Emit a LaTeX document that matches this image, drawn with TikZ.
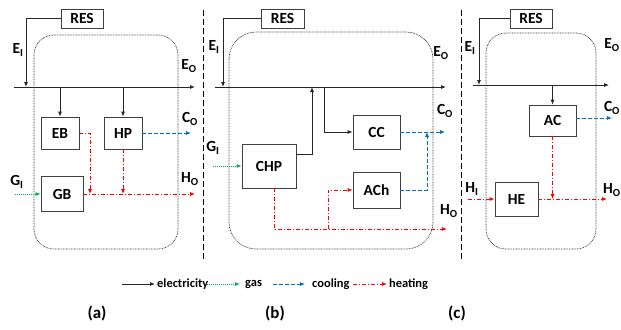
\documentclass[tikz,border=0pt]{standalone}
\usepackage{fontspec}
\setmainfont{Carlito}
\usetikzlibrary{arrows.meta}
\definecolor{gasgreen}{RGB}{0,176,80}
\definecolor{coolblue}{RGB}{0,112,192}
\definecolor{heatred}{RGB}{255,0,0}
\tikzset{
  box/.style={draw=black!75, line width=0.8bp, inner sep=0pt, font=\fontsize{15.5}{17}\selectfont\bfseries},
  lbl/.style={inner sep=0pt, font=\fontsize{15.5}{17}\selectfont\bfseries},
  captext/.style={inner sep=0pt, font=\fontsize{17}{19}\selectfont\bfseries},
  leg/.style={inner sep=0pt, anchor=west, font=\fontsize{12.5}{14}\selectfont\bfseries},
  tip/.style={-{Latex[length=5bp,width=4bp]}},
  elecline/.style={draw=black!85, line width=0.8bp, tip},
  gasline/.style={draw=gasgreen, line width=0.8bp, dash pattern=on 1bp off 1bp, tip},
  coolline/.style={draw=coolblue, line width=0.8bp, dash pattern=on 4bp off 2bp, tip},
  heatline/.style={draw=heatred, line width=0.8bp, dash pattern=on 4bp off 2bp on 1bp off 2bp, tip},
  system/.style={draw=black!80, line width=0.7bp, dash pattern=on 0.8bp off 0.8bp},
  sep/.style={draw=black, line width=0.8bp, dash pattern=on 6bp off 3bp},
}
\begin{document}
\begin{tikzpicture}[x=1bp,y=-1bp]
\useasboundingbox (0,0) rectangle (621,329);

% separators
\draw[sep] (203,10) -- (203,262);
\draw[sep] (461,10) -- (461,262);

% ===== panel (a) =====
\draw[system, rounded corners=20bp] (34,35) rectangle (178,249);
\node[box, minimum width=42bp, minimum height=19bp] (resa) at (82,18.5) {RES};
\node[box, minimum width=38bp, minimum height=32bp] (eb) at (60,133) {EB};
\node[box, minimum width=38bp, minimum height=32bp] (hp) at (123,133) {HP};
\node[box, minimum width=42bp, minimum height=35bp] (gb) at (62,194) {GB};
\coordinate (busa0) at (14,87);
\coordinate (busa1) at (195,87);
\coordinate (resain) at (26,87);
\coordinate (coa) at (191,133);
\coordinate (hoa) at (195,194);
\coordinate (gia) at (15,194);
\coordinate (ebturn) at (90,133);
\draw[elecline] (busa0) -- (busa1);
\draw[elecline] (resa.west) -| (resain);
\draw[elecline] (eb.north |- busa0) -- (eb.north);
\draw[elecline] (hp.north |- busa0) -- (hp.north);
\draw[coolline] (hp.east) -- (coa);
\draw[gasline] (gia) -- (gb.west);
\draw[heatline] (gb.east) -- (hoa);
\draw[heatline] (eb.east) -- (ebturn) -- (ebturn |- hoa);
\draw[heatline] (hp.south) -- (hp.south |- hoa);
\node[lbl] (eia) at (18,50) {E\textsubscript{I}};
\node[lbl] (eoa) at (189,66) {E\textsubscript{O}};
\node[lbl] (coal) at (190,119) {C\textsubscript{O}};
\node[lbl] (gial) at (17,182) {G\textsubscript{I}};
\node[lbl] (hoal) at (190,179) {H\textsubscript{O}};

% ===== panel (b) =====
\draw[system, rounded corners=27bp] (229,32) rectangle (433,249);
\node[box, minimum width=43bp, minimum height=19bp] (resb) at (282.5,18.5) {RES};
\node[box, minimum width=47bp, minimum height=34bp] (cc) at (376.5,132) {CC};
\node[box, minimum width=54bp, minimum height=44bp] (chp) at (269,166) {CHP};
\node[box, minimum width=47bp, minimum height=36bp] (ach) at (376.5,190) {ACh};
\coordinate (busb0) at (215,87);
\coordinate (busb1) at (446,87);
\coordinate (resbin) at (223,87);
\coordinate (ccdrop) at (324,87);
\coordinate (chpup) at (312,154);
\coordinate (cob) at (445,132);
\coordinate (achup) at (427,190);
\coordinate (gib) at (213,166);
\coordinate (hobot) at (274,229);
\coordinate (hob) at (447,229);
\coordinate (achbr) at (328,229);
\draw[elecline] (busb0) -- (busb1);
\draw[elecline] (resb.west) -| (resbin);
\draw[elecline] (ccdrop) |- (cc.west);
\draw[elecline] (chp.east |- chpup) -- (chpup) -- (chpup |- busb0);
\draw[gasline] (gib) -- (chp.west);
\draw[coolline] (cc.east) -- (cob);
\draw[coolline] (ach.east) -- (achup) -- (achup |- cob);
\draw[heatline] (hobot |- chp.south) -- (hobot) -- (hob);
\draw[heatline] (achbr) |- (ach.west);
\node[lbl] (eib) at (214,47) {E\textsubscript{I}};
\node[lbl] (eob) at (441,53) {E\textsubscript{O}};
\node[lbl] (cobl) at (445,111) {C\textsubscript{O}};
\node[lbl] (gibl) at (213,148) {G\textsubscript{I}};
\node[lbl] (hobl) at (449,211) {H\textsubscript{O}};

% ===== panel (c) =====
\draw[system, rounded corners=20bp] (486,33) rectangle (596,249);
\node[box, minimum width=42bp, minimum height=19bp] (resc) at (531,18.5) {RES};
\node[box, minimum width=47bp, minimum height=31bp] (ac) at (552.5,120.5) {AC};
\node[box, minimum width=43bp, minimum height=34bp] (he) at (516.5,199) {HE};
\coordinate (busc0) at (473,85);
\coordinate (busc1) at (609,85);
\coordinate (rescin) at (479,85);
\coordinate (coc) at (612,118);
\coordinate (hic) at (468,199);
\coordinate (hoc) at (607,199);
\draw[elecline] (busc0) -- (busc1);
\draw[elecline] (resc.west) -| (rescin);
\draw[elecline] (ac.north |- busc0) -- (ac.north);
\draw[coolline] (ac.east |- coc) -- (coc);
\draw[heatline] (hic) -- (he.west);
\draw[heatline] (he.east) -- (hoc);
\draw[heatline] (ac.south) -- (ac.south |- hoc);
\node[lbl] (eic) at (470,48) {E\textsubscript{I}};
\node[lbl] (eoc) at (612,45) {E\textsubscript{O}};
\node[lbl] (cocl) at (612,108) {C\textsubscript{O}};
\node[lbl] (hicl) at (472,189) {H\textsubscript{I}};
\node[lbl] (hocl) at (612,190) {H\textsubscript{O}};

% ===== legend =====
\coordinate (l1a) at (122,284); \coordinate (l1b) at (155,284);
\coordinate (l2a) at (207,284); \coordinate (l2b) at (240,284);
\coordinate (l3a) at (273,284); \coordinate (l3b) at (305,284);
\coordinate (l4a) at (353,284); \coordinate (l4b) at (387,284);
\draw[elecline] (l1a) -- (l1b);
\node[leg] (t1) at (157,284) {electricity};
\draw[gasline] (l2a) -- (l2b);
\node[leg] (t2) at (245,284) {gas};
\draw[coolline] (l3a) -- (l3b);
\node[leg] (t3) at (312,284) {cooling};
\draw[heatline] (l4a) -- (l4b);
\node[leg] (t4) at (389,284) {heating};

\node[captext] (capa) at (97,313) {(a)};
\node[captext] (capb) at (275,313) {(b)};
\node[captext] (capc) at (457,313) {(c)};
\end{tikzpicture}
\end{document}
